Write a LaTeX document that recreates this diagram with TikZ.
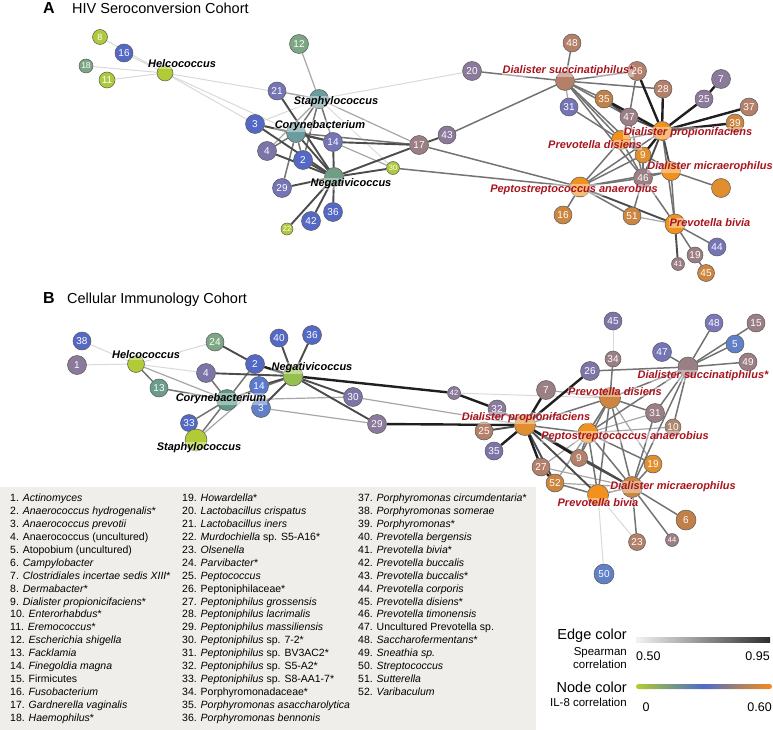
\documentclass[tikz,border=0pt]{standalone}
\usepackage{fontspec}
\setmainfont{Liberation Sans}
\pgfdeclarelayer{edges}
\pgfsetlayers{edges,main}
\definecolor{ygrn}{HTML}{B0CB35}
\definecolor{ygrnb}{HTML}{AECA3C}
\definecolor{grnA}{HTML}{7DA684}
\definecolor{grnB}{HTML}{6A9E8A}
\definecolor{tealA}{HTML}{6B9DA0}
\definecolor{tealB}{HTML}{5E9888}
\definecolor{negA}{HTML}{6E9E86}
\definecolor{lgrn}{HTML}{95C050}
\definecolor{blu}{HTML}{5468C6}
\definecolor{blub}{HTML}{5A7AD0}
\definecolor{bluc}{HTML}{6080C8}
\definecolor{pblu}{HTML}{7474B6}
\definecolor{pur}{HTML}{7C76A8}
\definecolor{purb}{HTML}{7A78B8}
\definecolor{mauv}{HTML}{8C7A9C}
\definecolor{rosy}{HTML}{9C7F84}
\definecolor{tan}{HTML}{B4806A}
\definecolor{tanb}{HTML}{B08870}
\definecolor{brn}{HTML}{C08048}
\definecolor{org}{HTML}{F3911E}
\definecolor{orgb}{HTML}{E08E2E}
\definecolor{obrn}{HTML}{CD8640}
\definecolor{labred}{HTML}{A8141E}
\definecolor{boxgray}{HTML}{EFEEEB}
\definecolor{barA}{HTML}{B2CC2E}
\definecolor{barB}{HTML}{7C9C7C}
\definecolor{barC}{HTML}{4C6CCC}
\definecolor{barD}{HTML}{A08070}
\definecolor{barE}{HTML}{F58A1E}
\pgfdeclarehorizontalshading{ilbar}{100bp}{color(0bp)=(barA); color(25bp)=(barA); color(37bp)=(barB); color(50bp)=(barC); color(62bp)=(barD); color(75bp)=(barE); color(100bp)=(barE)}
\begin{document}
\begin{tikzpicture}[x=1pt,y=-1pt,
 nd/.style={circle, draw=black!65, line width=0.5pt, minimum size=19pt, inner sep=0pt, text=white, font=\fontsize{10}{12}\selectfont},
 sm/.style={nd, minimum size=13pt, font=\fontsize{7.5}{9}\selectfont},
 blab/.style={font=\fontsize{11}{12}\selectfont\bfseries\itshape, text=black, inner sep=0.5pt, fill=white, fill opacity=0.4, text opacity=1},
 rlab/.style={blab, text=labred},
 e1/.style={draw=black!15, line width=1pt},
 e2/.style={draw=black!35, line width=1.2pt},
 e3/.style={draw=black!55, line width=1.5pt},
 e4/.style={draw=black!70, line width=1.9pt},
 e5/.style={draw=black!88, line width=2.4pt},
 ttl/.style={font=\fontsize{14.5}{16}\selectfont, inner sep=0pt, anchor=base west},
 ltr/.style={font=\fontsize{16}{18}\selectfont\bfseries, inner sep=0pt, anchor=base west},
 lst/.style={font=\fontsize{10.5}{12.9}\selectfont, align=left, inner sep=0pt, anchor=north west},
 lg/.style={font=\fontsize{14.5}{16}\selectfont, inner sep=0pt, anchor=base east},
 lgs/.style={font=\fontsize{11.5}{13}\selectfont, inner sep=0pt, anchor=base east},
 lgn/.style={font=\fontsize{12.5}{14}\selectfont, inner sep=0pt}]
\useasboundingbox (0,0) rectangle (773,730);
% legend box
\fill[boxgray] (0,487) rectangle (536,730);
% titles
\node[ltr] (tA) at (43,14) {A};
\node[ttl] (tAt) at (72,14) {HIV Seroconversion Cohort};
\node[ltr] (tB) at (43,303) {B};
\node[ttl] (tBt) at (67,303) {Cellular Immunology Cohort};

% ---------------- Panel A nodes
\node[nd,fill=ygrnb,minimum size=15pt,font=\fontsize{9}{10}\selectfont] (a8) at (100,37) {8};
\node[nd,fill=blu,minimum size=18pt] (a16) at (124,53) {16};
\node[nd,fill=grnA,minimum size=14pt,font=\fontsize{8.5}{10}\selectfont] (a18) at (86,66) {18};
\node[nd,fill=ygrnb,minimum size=16pt] (a11) at (107,80) {11};
\node[nd,fill=ygrn,minimum size=16pt] (aH) at (165,73) {};
\node[nd,fill=grnA] (a12) at (299,44) {12};
\node[nd,fill=pblu,minimum size=18pt] (a21) at (277,91) {21};
\node[nd,fill=tealA] (aS) at (319,99) {};
\node[nd,fill=blu] (a3) at (255,124) {3};
\node[nd,fill=tealA] (aC) at (296,133) {};
\node[nd,fill=pblu] (a14) at (333,142) {14};
\node[nd,fill=pur] (a4) at (267,151) {4};
\node[nd,fill=blu] (a2) at (303,160) {2};
\node[sm,fill=ygrnb] (a30) at (393,168) {30};
\node[nd,fill=negA] (aN) at (334,177) {};
\node[nd,fill=pblu] (a29) at (282,188) {29};
\node[nd,fill=blu] (a36) at (333,212) {36};
\node[nd,fill=blu] (a42) at (311,221) {42};
\node[sm,fill=ygrnb,minimum size=12pt] (a22) at (287,229) {22};
\node[nd,fill=mauv] (a20) at (472,71) {20};
\node[nd,fill=rosy] (a17) at (419,145) {17};
\node[nd,fill=mauv,minimum size=18pt] (a43) at (447,135) {43};
\node[nd,fill=tan,minimum size=18pt] (a48) at (572,43) {48};
\node[nd,fill=tan] (aDs) at (565,81) {};
\node[nd,fill=tan] (a26) at (637,71) {26};
\node[nd,fill=tan,minimum size=18pt] (a28) at (663,89) {28};
\node[nd,fill=mauv] (a7) at (721,79) {7};
\node[nd,fill=mauv,minimum size=18pt] (a25) at (704,99) {25};
\node[nd,fill=tan,minimum size=18pt] (a37) at (749,107) {37};
\node[nd,fill=obrn,minimum size=18pt] (a39) at (735,123) {39};
\node[nd,fill=brn,minimum size=18pt] (a35) at (604,99) {35};
\node[nd,fill=pblu,minimum size=18pt] (a31) at (569,107) {31};
\node[nd,fill=rosy,minimum size=18pt] (a47) at (629,117) {47};
\node[nd,fill=org] (aDp) at (662,131) {};
\node[nd,fill=org] (aPd) at (621,140) {};
\node[nd,fill=orgb,minimum size=16pt] (a9) at (643,155) {9};
\node[nd,fill=rosy] (a46) at (643,178) {46};
\node[nd,fill=org] (aDm) at (671,171) {};
\node[nd,fill=orgb] (aO) at (721,188) {};
\node[nd,fill=org,minimum size=20pt] (aPe) at (580,187) {};
\node[nd,fill=obrn,minimum size=18pt] (aP16) at (563,215) {16};
\node[nd,fill=obrn,minimum size=18pt] (a51) at (632,216) {51};
\node[nd,fill=org,minimum size=20pt] (aPb) at (675,224) {};
\node[nd,fill=pblu,minimum size=18pt] (a44) at (717,247) {44};
\node[nd,fill=rosy,minimum size=16pt] (a19) at (695,255) {19};
\node[sm,fill=rosy] (a41) at (678,264) {41};
\node[nd,fill=obrn,minimum size=17pt] (a45) at (706,273) {45};

% ---------------- Panel B nodes
\node[nd,fill=blu,minimum size=18pt] (b38) at (82,341) {38};
\node[nd,fill=mauv] (b1) at (77,365) {1};
\node[nd,fill=ygrn,minimum size=17pt] (bH) at (136,364) {};
\node[nd,fill=grnB,minimum size=18pt] (b13) at (159,388) {13};
\node[nd,fill=grnA,minimum size=18pt] (b24) at (215,342) {24};
\node[nd,fill=pur] (b4) at (206,373) {4};
\node[nd,fill=blu] (b2) at (255,364) {2};
\node[nd,fill=blu,minimum size=18pt] (b40) at (279,338) {40};
\node[nd,fill=blu] (b36) at (312,335) {36};
\node[nd,fill=blub] (b14) at (259,386) {14};
\node[nd,fill=lgrn,minimum size=20pt] (bN) at (293,376) {};
\node[nd,fill=tealB,minimum size=21pt] (bC) at (227,400) {};
\node[nd,fill=bluc] (b3) at (261,408) {3};
\node[nd,fill=blu,minimum size=17pt] (b33) at (189,423) {33};
\node[nd,fill=ygrn,minimum size=22pt] (bS) at (196,440) {};
\node[nd,fill=pur] (b30) at (353,397) {30};
\node[nd,fill=mauv] (b29) at (377,424) {29};
\node[nd,fill=pur,minimum size=18pt] (b45) at (613,321) {45};
\node[nd,fill=purb,minimum size=18pt] (b48) at (714,323) {48};
\node[nd,fill=rosy,minimum size=18pt] (b15) at (756,323) {15};
\node[nd,fill=bluc,minimum size=18pt] (b5) at (735,344) {5};
\node[nd,fill=pblu] (b47) at (662,352) {47};
\node[nd,fill=rosy,minimum size=16pt] (b34) at (613,359) {34};
\node[nd,fill=rosy,minimum size=18pt] (b49) at (748,362) {49};
\node[nd,fill=rosy,minimum size=20pt] (bDs) at (688,367) {};
\node[nd,fill=pur] (b26) at (590,371) {26};
\node[nd,fill=rosy] (b7) at (546,390) {7};
\node[nd,fill=obrn,minimum size=21pt] (bPd) at (610,398) {};
\node[sm,fill=mauv] (b42) at (454,393) {42};
\node[nd,fill=mauv,minimum size=18pt] (b32) at (497,409) {32};
\node[nd,fill=rosy] (b31) at (655,413) {31};
\node[nd,fill=orgb,minimum size=21pt] (bDp) at (525,425) {};
\node[nd,fill=tan,minimum size=18pt] (b25) at (484,431) {25};
\node[nd,fill=tanb,minimum size=16pt] (b10) at (673,427) {10};
\node[nd,fill=org,minimum size=20pt] (bPe) at (588,433) {};
\node[nd,fill=pur,minimum size=18pt] (b35) at (494,451) {35};
\node[nd,fill=tan,minimum size=18pt] (b27) at (541,467) {27};
\node[nd,fill=obrn,minimum size=18pt] (b52) at (555,483) {52};
\node[nd,fill=tan,minimum size=17pt] (b9) at (579,458) {9};
\node[nd,fill=orgb,minimum size=18pt] (b19) at (653,464) {19};
\node[nd,fill=obrn,minimum size=21pt] (bDm) at (632,487) {};
\node[nd,fill=org,minimum size=21pt] (bPb) at (598,495) {};
\node[nd,fill=brn,minimum size=20pt] (b6) at (686,520) {6};
\node[nd,fill=tan,minimum size=17pt] (b23) at (637,542) {23};
\node[sm,fill=rosy] (b44) at (672,540) {44};
\node[nd,fill=bluc,minimum size=20pt] (b50) at (604,574) {50};

% ---------------- edges
\begin{pgfonlayer}{edges}
\foreach \u/\v in {aH/a8, aH/a16, aH/a18, aH/a11, aH/aS, aH/a3, aH/aC, aS/a30, aS/a20, a3/aS,
  bH/b38, bH/b1, bH/b24, bH/b4, b42/bPd, bPb/b50, bPb/b23, b45/b34}
  \draw[e1] (\u) -- (\v);
\foreach \u/\v in {a12/aS, a21/aS, aS/a17, a4/aS, a14/a30, a51/aPb, a31/aDs,
  bH/bC, bC/b30, b3/b29, bS/b14, b30/bDp, b7/bPd, bPd/b19, bPd/b52, b31/bPe, b10/bPe, bPe/b27, bPe/b52, bDm/b52, bDm/b27}
  \draw[e2] (\u) -- (\v);
\foreach \u/\v in {aC/aS, a14/aS, a2/aS, a3/aC, a29/aC, a4/aC, a2/aC, aC/a17, a17/aPe, a30/aPe, a20/aDs, a43/aDs, a48/aDs, aDs/a26, aDs/a28, aDs/aPd, aDs/a47, aDs/a9, aDs/a46, aDs/a35, a26/a47, a47/aPd, a47/a46, a31/aPd, aPd/aDp, aPd/a9, aPd/a46, aPd/aPe, aPd/aDm, aDp/aPb, a9/aPe, a9/a46, a46/aPe, a46/aDm, a46/aPb, a46/a51, aDm/aO, aDm/aPe, aDm/aPb, aPe/aP16, aPe/a51, aPb/a44, aPb/a19, a19/a45, aDp/aPe,
  bH/b13, b13/bC, b4/bC, bC/bN, bC/b2, bC/b33, bC/bS, bDp/bPe, bDp/bPd, b26/bDs, b47/bDs, b48/bDs, b15/bDs, b5/bDs, b49/bDs, b34/bPd, bDs/bPd, bDs/b31, bDs/bPe, bDs/b10, bDs/bDm, bPd/b31, bPd/bPe, bPd/bDm, bPd/bPb, bPd/b9, b31/bDm, bPe/b9, bPe/bDm, bPe/bPb, bPe/b19, bDm/b19, bDm/b6, bDm/b23, bDm/b44, bDm/bPb, bPb/b52}
  \draw[e3] (\u) -- (\v);
\foreach \u/\v in {a21/aN, a3/aN, a3/a14, a4/aN, a2/aN, a14/aN, aC/aN, a29/aN, aN/a22, aN/a42, aN/a36, aN/a30, aN/a17, a14/a17, a17/a43, a35/a47, a47/aDp, aDp/a46, aDp/aDm, aPe/aPb, aPb/a41, aC/a14,
  b24/b2, b4/bN, b40/bN, b36/bN, b14/bN, b3/bN, bN/b30, bN/b29, b32/bDp, b25/bDp, b52/bDp, bDp/bPb, b9/bDm, bDp/bDm}
  \draw[e4] (\u) -- (\v);
\foreach \u/\v in {a26/aDp, a28/aDp, a7/a25, a25/aDp, a37/aDp, a39/aDp, a35/aDp, aDp/a9,
  b2/bN, bN/b42, b42/b32, b35/bDp, b7/bDp, b26/bDp, b27/bDp, b9/bDp, b29/bDp, b27/b52}
  \draw[e5] (\u) -- (\v);
\end{pgfonlayer}

% ---------------- labels A
\node[blab] (aHl) at (182,64) {Helcococcus};
\node[blab] (aSl) at (336,102) {Staphylococcus};
\node[blab] (aCl) at (320,126) {Corynebacterium};
\node[blab] (aNl) at (351,184) {Negativicoccus};
\node[rlab] (aDsl) at (568,71) {Dialister succinatiphilus*};
\node[rlab] (aDpl) at (688,133) {Dialister propionifaciens};
\node[rlab] (aPdl) at (595,145) {Prevotella disiens};
\node[rlab] (aDml) at (710,167) {Dialister micraerophilus};
\node[rlab] (aPel) at (574,190) {Peptostreptococcus anaerobius};
\node[rlab] (aPbl) at (710,223) {Prevotella bivia};
% ---------------- labels B
\node[blab] (bHl) at (146,355) {Helcococcus};
\node[blab] (bNl) at (312,368) {Negativicoccus};
\node[blab] (bCl) at (221,399) {Corynebacterium};
\node[blab] (bSl) at (199,448) {Staphylococcus};
\node[rlab] (bDsl) at (703,376) {Dialister succinatiphilus*};
\node[rlab] (bPdl) at (615,392) {Prevotella disiens};
\node[rlab] (bDpl) at (526,418) {Dialister propionifaciens};
\node[rlab] (bPel) at (625,437) {Peptostreptococcus anaerobius};
\node[rlab] (bDml) at (673,487) {Dialister micraerophilus};
\node[rlab] (bPbl) at (598,503) {Prevotella bivia};

% ---------------- list
\node[lst] (col1) at (10,494) {1. \textit{Actinomyces}\\
2. \textit{Anaerococcus hydrogenalis}*\\
3. \textit{Anaerococcus prevotii}\\
4. Anaerococcus (uncultured)\\
5. Atopobium (uncultured)\\
6. \textit{Campylobacter}\\
7. \textit{Clostridiales incertae sedis XIII}*\\
8. \textit{Dermabacter}*\\
9. \textit{Dialister propionicifaciens}*\\
10. \textit{Enterorhabdus}*\\
11. \textit{Eremococcus}*\\
12. \textit{Escherichia shigella}\\
13. \textit{Facklamia}\\
14. \textit{Finegoldia magna}\\
15. Firmicutes\\
16. \textit{Fusobacterium}\\
17. \textit{Gardnerella vaginalis}\\
18. \textit{Haemophilus}*};
\node[lst] (col2) at (182,494) {19. \textit{Howardella}*\\
20. \textit{Lactobacillus crispatus}\\
21. \textit{Lactobacillus iners}\\
22. \textit{Murdochiella} sp. S5-A16*\\
23. \textit{Olsenella}\\
24. \textit{Parvibacter}*\\
25. \textit{Peptococcus}\\
26. Peptoniphilaceae*\\
27. \textit{Peptoniphilus grossensis}\\
28. \textit{Peptoniphilus lacrimalis}\\
29. \textit{Peptoniphilus massiliensis}\\
30. \textit{Peptoniphilus} sp. 7-2*\\
31. \textit{Peptoniphilus} sp. BV3AC2*\\
32. \textit{Peptoniphilus} sp. S5-A2*\\
33. \textit{Peptoniphilus} sp. S8-AA1-7*\\
34. Porphyromonadaceae*\\
35. \textit{Porphyromonas asaccharolytica}\\
36. \textit{Porphyromonas bennonis}};
\node[lst] (col3) at (358,494) {37. \textit{Porphyromonas circumdentaria}*\\
38. \textit{Porphyromonas somerae}\\
39. \textit{Porphyromonas}*\\
40. \textit{Prevotella bergensis}\\
41. \textit{Prevotella bivia}*\\
42. \textit{Prevotella buccalis}\\
43. \textit{Prevotella buccalis}*\\
44. \textit{Prevotella corporis}\\
45. \textit{Prevotella disiens}*\\
46. \textit{Prevotella timonensis}\\
47. Uncultured Prevotella sp.\\
48. \textit{Saccharofermentans}*\\
49. \textit{Sneathia sp.}\\
50. \textit{Streptococcus}\\
51. \textit{Sutterella}\\
52. \textit{Varibaculum}};

% ---------------- colour legend
\node[lg] (lgE) at (627,639) {Edge color};
\node[lgs] (lgS1) at (627,655) {Spearman};
\node[lgs] (lgS2) at (627,668) {correlation};
\shade[left color=black!5, right color=black!82] (636,637) rectangle (770,642);
\node[lgn, anchor=base west] (lgE0) at (636,660) {0.50};
\node[lgn, anchor=base east] (lgE1) at (770,660) {0.95};
\node[lg] (lgN) at (627,692) {Node color};
\node[lgs] (lgIL) at (627,706) {IL-8 correlation};
\shade[shading=ilbar, rounded corners=2.5pt] (636,684) rectangle (772,689);
\node[lgn, anchor=base] (lgN0) at (646,711) {0};
\node[lgn, anchor=base east] (lgN1) at (772,711) {0.60};
\end{tikzpicture}
\end{document}
